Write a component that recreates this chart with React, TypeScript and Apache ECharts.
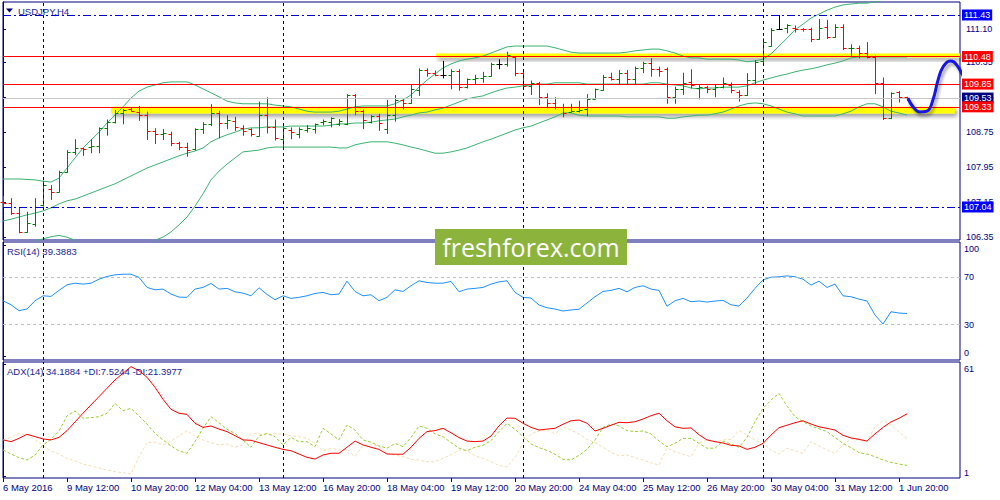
import React, { useEffect, useRef } from "react";
import * as echarts from "echarts";

// ---------- data ----------
const timeLabels = ["6 May 2016", "9 May 12:00", "10 May 20:00", "12 May 04:00", "13 May 12:00", "16 May 20:00", "18 May 04:00", "19 May 12:00", "20 May 20:00", "24 May 04:00", "25 May 12:00", "26 May 20:00", "30 May 04:00", "31 May 12:00", "1 Jun 20:00"];
const timeLabelBars = [0, 8, 16, 24, 32, 40, 48, 56, 64, 72, 80, 88, 96, 104, 112];
const weekStartBars = [5, 35, 65, 95];

const barOpen = [107.16,107.12,106.90,106.47,106.64,107.09,107.45,107.39,107.85,108.30,
108.38,108.41,108.43,108.84,108.99,109.18,109.27,109.22,109.14,108.78,
108.70,108.72,108.50,108.42,108.36,108.82,108.94,109.18,108.97,109.01,
108.84,108.82,108.66,109.14,108.86,108.59,108.80,108.72,108.80,108.82,
108.99,108.99,108.94,108.94,109.60,109.23,108.99,109.12,108.82,109.14,
109.49,109.41,109.71,110.17,110.10,110.06,110.05,110.16,109.78,109.96,
110.00,110.03,110.31,110.31,110.48,110.11,109.81,109.88,109.55,109.41,
109.33,109.22,109.23,109.27,109.52,109.71,110.02,109.96,110.10,109.96,
110.21,110.34,110.19,110.19,109.55,109.73,109.90,109.77,109.78,109.73,
109.79,109.83,109.67,109.60,109.95,110.38,110.73,111.11,111.13,111.14,
111.11,111.11,110.88,111.16,110.93,111.16,110.67,110.68,110.55,110.48,
109.87,109.07,109.66,109.55];
const barHigh = [107.29,107.24,107.03,106.93,107.24,107.64,107.54,107.87,108.34,108.59,
108.39,108.59,108.86,109.04,109.26,109.28,109.30,109.35,109.22,108.84,
108.82,108.76,108.53,108.51,108.84,108.98,109.39,109.24,109.14,109.10,
108.91,108.84,109.45,109.55,109.04,108.88,108.86,108.86,108.91,108.95,
109.04,109.09,109.05,109.62,109.62,109.27,109.14,109.17,109.49,109.60,
109.50,109.83,110.21,110.21,110.16,110.38,110.19,110.19,109.98,110.06,
110.13,110.34,110.42,110.59,110.49,110.17,109.93,109.90,109.64,109.55,
109.40,109.40,109.47,109.62,109.75,110.06,110.11,110.17,110.17,110.25,
110.36,110.44,110.25,110.23,109.79,110.11,110.19,109.85,109.81,109.83,
110.00,109.89,109.71,110.10,110.40,110.90,111.13,111.43,111.22,111.19,
111.13,111.14,111.34,111.32,111.22,111.22,110.76,110.73,110.81,110.50,
110.00,109.66,109.69,109.56];
const barLow = [107.03,106.86,106.44,106.45,106.59,107.05,107.20,107.37,107.82,108.23,
108.21,108.27,108.27,108.67,108.95,108.93,109.22,109.01,108.57,108.48,
108.57,108.43,108.34,108.19,108.33,108.71,108.89,108.61,108.82,108.78,
108.67,108.65,108.65,108.72,108.56,108.38,108.59,108.61,108.74,108.72,
108.91,108.86,108.89,108.91,109.14,108.82,108.95,108.78,108.71,108.99,
109.27,109.40,109.58,110.02,110.03,109.98,109.73,109.70,109.75,109.83,
109.88,110.02,110.19,110.25,110.03,109.78,109.60,109.37,109.30,109.27,
109.09,109.20,109.20,109.12,109.50,109.70,109.93,109.85,109.85,109.85,
110.10,110.02,110.02,109.40,109.40,109.60,109.75,109.50,109.64,109.55,
109.75,109.64,109.45,109.58,109.83,110.30,110.71,111.09,111.01,111.03,
111.05,110.81,110.86,110.88,110.91,110.63,110.48,110.44,110.44,109.62,
109.03,109.05,109.43,109.46];
const barClose = [107.12,106.90,106.47,106.67,107.05,107.54,107.39,107.85,108.30,108.38,
108.36,108.43,108.84,108.99,109.18,109.26,109.24,109.14,108.78,108.72,
108.73,108.50,108.42,108.34,108.82,108.94,109.18,108.97,109.03,108.88,
108.78,108.72,109.14,108.86,108.61,108.84,108.76,108.82,108.84,108.94,
109.01,109.07,109.01,109.60,109.23,109.04,109.12,108.95,109.14,109.49,
109.42,109.73,110.17,110.10,110.06,110.06,110.15,109.78,109.96,110.00,
110.03,110.31,110.31,110.52,110.11,109.81,109.88,109.55,109.41,109.33,
109.20,109.24,109.26,109.52,109.73,110.02,109.96,110.10,109.96,110.21,
110.33,110.19,110.16,109.55,109.73,109.88,109.83,109.79,109.73,109.79,
109.87,109.71,109.60,109.95,110.35,110.81,111.09,111.11,111.19,111.11,
111.10,110.88,111.14,110.93,111.16,110.67,110.68,110.55,110.48,109.88,
109.07,109.64,109.56,109.53];

const bbUpper = [107.68,107.68,107.68,107.67,107.66,107.63,107.61,107.70,107.93,108.16,
108.39,108.57,108.75,108.96,109.14,109.33,109.53,109.69,109.78,109.83,
109.88,109.90,109.90,109.90,109.83,109.74,109.65,109.56,109.46,109.42,
109.40,109.40,109.40,109.40,109.37,109.35,109.33,109.28,109.23,109.21,
109.21,109.21,109.23,109.28,109.33,109.35,109.35,109.35,109.35,109.40,
109.49,109.60,109.78,109.94,110.08,110.22,110.31,110.38,110.42,110.45,
110.49,110.56,110.63,110.70,110.72,110.72,110.72,110.72,110.72,110.68,
110.63,110.58,110.56,110.56,110.56,110.56,110.56,110.56,110.58,110.61,
110.63,110.65,110.65,110.61,110.56,110.49,110.45,110.45,110.42,110.42,
110.42,110.42,110.40,110.36,110.38,110.42,110.54,110.72,110.90,111.09,
111.22,111.36,111.45,111.54,111.61,111.66,111.68,111.70,111.70,111.73,
111.75,111.80,111.82,111.84];
const bbMiddle = [106.72,106.76,106.81,106.86,106.90,106.95,107.02,107.11,107.18,107.22,
107.29,107.36,107.43,107.50,107.57,107.66,107.75,107.84,107.93,108.00,
108.07,108.14,108.21,108.27,108.32,108.39,108.53,108.62,108.69,108.75,
108.82,108.85,108.85,108.87,108.87,108.87,108.89,108.89,108.89,108.89,
108.89,108.91,108.94,108.94,108.96,108.96,108.98,109.01,109.03,109.05,
109.10,109.14,109.19,109.21,109.26,109.30,109.37,109.44,109.51,109.55,
109.58,109.65,109.71,109.76,109.78,109.81,109.83,109.85,109.85,109.88,
109.88,109.88,109.88,109.85,109.85,109.85,109.85,109.85,109.85,109.85,
109.85,109.88,109.88,109.85,109.83,109.81,109.76,109.74,109.76,109.76,
109.78,109.78,109.78,109.81,109.88,109.94,109.99,110.04,110.08,110.13,
110.17,110.20,110.24,110.29,110.33,110.38,110.45,110.47,110.47,110.47,
110.47,110.47,110.47,110.47];
const bbLower = [106.06,106.12,106.17,106.22,106.26,106.31,106.36,106.39,106.35,106.28,
106.22,106.15,106.08,106.01,105.96,105.94,105.94,106.01,106.15,106.28,
106.35,106.47,106.63,106.81,107.06,107.34,107.66,107.86,108.02,108.16,
108.30,108.32,108.34,108.39,108.41,108.41,108.41,108.41,108.41,108.41,
108.41,108.41,108.39,108.39,108.46,108.50,108.53,108.53,108.53,108.50,
108.46,108.41,108.37,108.32,108.27,108.27,108.30,108.34,108.39,108.46,
108.53,108.59,108.66,108.73,108.80,108.85,108.89,108.96,109.03,109.10,
109.19,109.19,109.14,109.12,109.12,109.12,109.12,109.12,109.10,109.10,
109.10,109.10,109.10,109.07,109.07,109.10,109.12,109.14,109.14,109.17,
109.21,109.28,109.35,109.40,109.42,109.40,109.35,109.28,109.21,109.17,
109.12,109.12,109.12,109.12,109.12,109.17,109.23,109.33,109.40,109.40,
109.33,109.23,109.19,109.14];

const rsi = [50.2,46.8,41.8,43.2,50.2,54.4,53.9,59.0,63.7,65.1,
64.3,65.1,68.5,70.8,72.2,72.7,72.7,70.0,61.5,59.5,
60.1,55.9,53.3,53.1,60.1,61.5,64.9,60.1,60.7,57.8,
56.7,54.4,61.2,55.6,51.1,54.4,52.2,53.1,54.4,56.4,
57.3,55.3,55.9,66.8,58.1,54.4,55.3,50.2,53.1,59.5,
58.1,62.9,67.1,65.7,65.1,65.1,66.6,57.8,60.1,60.7,
61.5,64.3,66.2,67.1,57.3,53.1,52.5,46.6,44.3,43.2,
41.5,42.4,43.0,48.3,53.6,58.1,59.0,60.7,57.8,61.5,
62.9,60.1,59.0,45.5,50.2,52.2,49.4,50.0,49.1,50.0,
50.5,46.8,45.7,52.5,60.7,67.9,70.2,70.5,71.3,70.5,
68.5,63.5,66.8,61.5,64.3,54.4,53.6,51.6,50.0,38.1,
30.5,40.9,39.8,39.39];
const rsiLevels = [30, 70];

const adx = [20.7,19.8,21.5,23.6,22.4,21.2,20.7,22.0,25.5,30.0,
34.5,38.8,43.1,47.4,51.7,55.2,58.6,56.5,53.1,47.9,
41.7,36.5,34.5,33.9,29.3,27.2,27.9,26.3,25.0,22.9,
20.7,20.5,19.3,18.1,16.9,15.8,15.1,13.4,11.7,10.8,
12.9,13.8,13.8,16.9,20.1,18.1,16.9,15.8,13.4,13.3,
13.3,16.9,21.5,25.0,25.5,26.7,24.4,21.9,20.1,19.8,
20.1,22.7,28.0,32.0,31.9,29.3,27.2,25.8,26.3,26.7,
28.8,30.6,31.0,29.3,25.3,26.7,28.3,29.8,29.6,30.1,
31.5,33.2,34.5,30.6,27.5,26.7,26.9,23.4,20.7,19.8,
19.1,17.9,17.6,15.8,16.9,18.9,23.2,27.0,28.3,29.6,
30.6,28.9,27.5,26.7,25.8,23.1,21.7,21.0,20.1,23.8,
27.2,30.0,31.9,34.19];
const plusDi = [15.5,13.4,11.5,10.3,12.9,18.1,21.0,25.3,33.1,35.7,
31.9,32.2,32.7,34.5,39.6,35.8,37.0,33.1,28.9,24.1,
20.7,17.6,15.0,13.8,19.8,26.7,32.7,29.6,26.2,24.1,
20.7,16.9,22.7,24.1,22.4,18.1,22.0,19.8,19.8,17.2,
26.7,23.8,20.7,28.4,25.8,20.7,19.5,17.6,16.4,18.9,
17.2,22.0,27.9,26.7,23.8,22.4,19.3,16.4,15.1,16.9,
17.9,20.3,25.0,29.3,26.2,22.4,18.6,16.7,15.3,13.3,
10.7,10.3,12.7,15.8,20.7,27.2,28.9,27.9,25.5,25.0,
25.3,23.8,20.1,17.2,18.9,21.5,21.5,18.9,16.4,16.4,
20.1,18.6,16.9,22.0,30.1,37.0,41.3,44.8,38.2,32.7,
30.1,27.9,26.5,25.0,21.9,18.9,16.7,14.1,13.4,12.0,
10.3,9.1,8.2,7.52];
const minusDi = [20.7,22.0,24.1,23.2,21.0,17.6,15.0,13.3,11.2,9.9,
8.2,7.2,6.2,5.1,4.3,3.7,3.1,12.0,19.3,19.6,
18.1,20.1,22.7,25.5,22.7,20.7,19.3,18.1,18.6,16.9,
18.1,24.1,23.8,23.2,23.8,23.8,22.9,22.4,21.5,18.9,
15.1,16.4,15.5,15.8,12.0,17.6,18.6,17.2,14.1,12.9,
12.0,10.7,10.2,9.4,9.4,11.2,12.9,15.5,15.1,12.5,
11.2,9.4,7.5,6.7,11.7,18.9,23.8,25.3,25.8,23.8,
27.5,25.8,23.8,21.0,19.3,16.9,14.3,12.4,12.9,11.5,
10.3,8.9,7.6,16.5,14.6,13.3,12.0,18.9,20.7,19.6,
20.7,21.0,25.5,23.2,20.7,18.6,15.5,13.4,16.4,15.1,
13.8,19.8,17.6,15.5,13.8,18.1,21.2,20.7,19.8,27.5,
30.6,28.4,24.8,21.40];

const priceTicks = [106.35, 107.15, 107.95, 108.75, 109.55, 110.35, 111.10];
const rangeHigh = 111.43;
const rangeLow = 107.04;
const resistanceLevel = 110.48;
const middleLevel = 109.85;
const supportLevel = 109.33;
const bidPrice = 109.53;

// yellow zones: [startBar, endBar, bottom, top]
const upperZone = [54.125, 119.625, 110.46, 110.55];
const lowerZone = [13.5, 119.0, 109.18, 109.33];

// hand-drawn forecast curve
const forecastBars = [113.125, 113.75, 114.625, 115.5, 116.25, 116.875, 117.5, 118.375, 118.875, 119.625, 120.5, 121.25, 121.875];
const forecastPrices = [109.53, 109.33, 109.21, 109.23, 109.49, 109.94, 110.24, 110.38, 110.355, 110.17, 109.875, 109.60, 109.44];
const arrowBars = [120.25, 121.875, 121.875];
const arrowPrices = [109.60, 109.44, 109.81];

// ---------- styling ----------
const FONT = "'Liberation Sans', Arial, sans-serif";
const NAVY = "#000080";
const UP = "#008000";
const DOWN = "#ff0000";
const FLAT = "#000000";
const BB = "#3cb371";
const X_MAX = 119.625;

const pts = (xs: number[], ys: number[]) => ys.map((v, i) => [xs[i], v]);
const idx = (ys: number[]) => ys.map((v, i) => [i, v]);

function buildOption() {
  const sepLines = weekStartBars.map((b) => ({
    xAxis: b,
    lineStyle: { color: NAVY, type: [3, 3], width: 1 },
    label: { show: false },
  }));
  const boxLabel = (bg: string) => ({
    show: true,
    position: "end",
    distance: 2,
    formatter: (p: any) => Number(p.value).toFixed(2),
    color: "#ffffff",
    backgroundColor: bg,
    padding: [1, 2, 0, 2],
    fontSize: 9,
    lineHeight: 10,
    fontFamily: FONT,
  });
  const dashDot = [8, 3, 2, 3];

  const grids = [
    { left: 3, top: 2, width: 957, height: 238 },
    { left: 3, top: 242, width: 957, height: 118 },
    { left: 3, top: 362, width: 957, height: 116 },
  ].map((g) => ({ ...g, show: true, borderColor: NAVY, borderWidth: 1, backgroundColor: "#ffffff" }));

  const xAxes = [0, 1, 2].map((k) => ({
    type: "value",
    gridIndex: k,
    min: 0,
    max: X_MAX,
    show: k === 2,
    axisLine: { show: false },
    splitLine: { show: false },
    axisTick:
      k === 2
        ? { show: true, customValues: timeLabelBars, length: 4, lineStyle: { color: NAVY } }
        : { show: false },
    axisLabel:
      k === 2
        ? {
            show: true,
            customValues: timeLabelBars,
            formatter: (v: number) => {
              const j = timeLabelBars.indexOf(Math.round(v));
              return j >= 0 ? timeLabels[j] : "";
            },
            align: "left",
            margin: 4,
            color: NAVY,
            fontSize: 9.5,
            fontFamily: FONT,
          }
        : { show: false },
  }));

  const axisCommon = {
    position: "right",
    splitLine: { show: false },
    axisLine: { show: true, lineStyle: { color: NAVY } },
  };
  const yAxes = [
    {
      ...axisCommon,
      type: "value",
      gridIndex: 0,
      min: 106.285,
      max: 111.727,
      axisTick: { show: true, customValues: priceTicks, length: 3, lineStyle: { color: NAVY } },
      axisLabel: {
        customValues: priceTicks,
        formatter: (v: number) => v.toFixed(2),
        color: NAVY,
        fontSize: 9,
        margin: 6,
        fontFamily: FONT,
      },
    },
    {
      ...axisCommon,
      type: "value",
      gridIndex: 1,
      min: 0,
      max: 100,
      axisTick: { show: true, customValues: [3, 30, 70, 97], length: 3, lineStyle: { color: NAVY } },
      axisLabel: {
        customValues: [5.7, 30, 70, 94],
        formatter: (v: number) => (v < 10 ? "0" : v > 90 ? "100" : String(Math.round(v))),
        color: NAVY,
        fontSize: 9,
        margin: 4,
        fontFamily: FONT,
      },
    },
    {
      ...axisCommon,
      type: "value",
      gridIndex: 2,
      min: 1,
      max: 61,
      axisTick: { show: true, customValues: [2, 60], length: 3, lineStyle: { color: NAVY } },
      axisLabel: {
        customValues: [3.7, 57.2],
        formatter: (v: number) => (v < 30 ? "1" : "61"),
        color: NAVY,
        fontSize: 9,
        margin: 4,
        fontFamily: FONT,
      },
    },
  ];

  const ohlc = barOpen.map((o, i) => [i, o, barHigh[i], barLow[i], barClose[i]]);

  const series: any[] = [
    {
      name: "zones",
      type: "line",
      data: [],
      z: 1,
      silent: true,
      markArea: {
        silent: true,
        itemStyle: {
          color: "#ffff00",
          shadowColor: "rgba(0,0,0,0.38)",
          shadowBlur: 4,
          shadowOffsetX: 2,
          shadowOffsetY: 3,
        },
        data: [
          [{ coord: [upperZone[0], upperZone[3]] }, { coord: [upperZone[1], upperZone[2]] }],
          [{ coord: [lowerZone[0], lowerZone[3]] }, { coord: [lowerZone[1], lowerZone[2]] }],
        ],
      },
    },
    {
      name: "levels",
      type: "line",
      data: [],
      z: 2,
      silent: true,
      markLine: {
        silent: true,
        symbol: ["none", "none"],
        data: [
          ...sepLines,
          { yAxis: rangeHigh, lineStyle: { color: "#0000cc", type: dashDot, width: 1 }, label: boxLabel("#0000ff") },
          { yAxis: rangeLow, lineStyle: { color: "#0000cc", type: dashDot, width: 1 }, label: boxLabel("#0000ff") },
          { yAxis: resistanceLevel, lineStyle: { color: "#ff0000", type: "solid", width: 1 }, label: boxLabel("#ff0000") },
          { yAxis: middleLevel, lineStyle: { color: "#ff0000", type: "solid", width: 1 }, label: boxLabel("#ff0000") },
          { yAxis: bidPrice, lineStyle: { color: "#c8c8c8", type: "solid", width: 1 }, label: boxLabel("#000080") },
          { yAxis: supportLevel, lineStyle: { color: "#ff0000", type: "solid", width: 1 }, label: boxLabel("#ff0000") },
        ],
      },
    },
    ...[bbUpper, bbMiddle, bbLower].map((arr) => ({
      type: "line",
      data: idx(arr),
      showSymbol: false,
      symbol: "none",
      z: 3,
      silent: true,
      lineStyle: { color: BB, width: 1 },
    })),
    {
      type: "custom",
      z: 4,
      silent: true,
      data: ohlc,
      encode: { x: 0, y: [1, 2, 3, 4] },
      renderItem: (params: any, api: any) => {
        const x = api.value(0);
        const o = api.value(1);
        const h = api.value(2);
        const l = api.value(3);
        const c = api.value(4);
        const pH = api.coord([x, h]);
        const pL = api.coord([x, l]);
        const pO = api.coord([x, o]);
        const pC = api.coord([x, c]);
        const w = api.size([1, 0])[0] * 0.375;
        const cx = Math.round(pH[0]) + 0.5;
        const oy = Math.round(pO[1]) + 0.5;
        const cy = Math.round(pC[1]) + 0.5;
        const color = c > o ? UP : c < o ? DOWN : FLAT;
        const style = { stroke: color, lineWidth: 1 };
        return {
          type: "group",
          children: [
            { type: "line", shape: { x1: cx, y1: pH[1], x2: cx, y2: pL[1] }, style },
            { type: "line", shape: { x1: cx - w, y1: oy, x2: cx, y2: oy }, style },
            { type: "line", shape: { x1: cx, y1: cy, x2: cx + w, y2: cy }, style },
          ],
        };
      },
    },
    {
      type: "line",
      data: pts(forecastBars, forecastPrices),
      smooth: 0.45,
      clip: false,
      showSymbol: false,
      symbol: "none",
      z: 10,
      silent: true,
      lineStyle: {
        color: "#1414e6",
        width: 3,
        shadowColor: "rgba(0,0,0,0.35)",
        shadowBlur: 3,
        shadowOffsetX: 2,
        shadowOffsetY: 3,
      },
    },
    {
      type: "line",
      data: pts(arrowBars, arrowPrices),
      clip: false,
      showSymbol: false,
      symbol: "none",
      z: 10,
      silent: true,
      lineStyle: { color: "#1414e6", width: 2.5 },
    },
    {
      type: "line",
      xAxisIndex: 1,
      yAxisIndex: 1,
      data: idx(rsi),
      showSymbol: false,
      symbol: "none",
      silent: true,
      z: 3,
      lineStyle: { color: "#1e90ff", width: 1 },
      markLine: {
        silent: true,
        symbol: ["none", "none"],
        label: { show: false },
        data: [
          ...rsiLevels.map((v) => ({ yAxis: v, lineStyle: { color: "#c0c0c0", type: [3, 3], width: 1 }, label: { show: false } })),
          ...sepLines,
        ],
      },
    },
    {
      type: "line",
      xAxisIndex: 2,
      yAxisIndex: 2,
      data: idx(minusDi),
      showSymbol: false,
      symbol: "none",
      silent: true,
      z: 3,
      lineStyle: { color: "#f5deb3", width: 1, type: [3, 2] },
      markLine: { silent: true, symbol: ["none", "none"], label: { show: false }, data: sepLines },
    },
    {
      type: "line",
      xAxisIndex: 2,
      yAxisIndex: 2,
      data: idx(plusDi),
      showSymbol: false,
      symbol: "none",
      silent: true,
      z: 4,
      lineStyle: { color: "#9acd32", width: 1, type: [3, 2] },
    },
    {
      type: "line",
      xAxisIndex: 2,
      yAxisIndex: 2,
      data: idx(adx),
      showSymbol: false,
      symbol: "none",
      silent: true,
      z: 5,
      lineStyle: { color: "#ff0000", width: 1 },
    },
  ];

  const graphic = [
    { type: "polygon", z: 100, shape: { points: [[6, 8.5], [13, 8.5], [9.5, 12.5]] }, style: { fill: NAVY } },
    { type: "text", z: 100, x: 18, y: 11, style: { text: "USDJPY,H4", fill: "#1c1c96", fontSize: 9.5, fontFamily: FONT, verticalAlign: "middle" } },
    { type: "text", z: 100, x: 7, y: 251.5, style: { text: "RSI(14) 39.3883", fill: "#1c1c96", fontSize: 9.5, fontFamily: FONT, verticalAlign: "middle" } },
    { type: "text", z: 100, x: 7, y: 371.5, style: { text: "ADX(14) 34.1884 +DI:7.5244 -DI:21.3977", fill: "#1c1c96", fontSize: 9.5, fontFamily: FONT, verticalAlign: "middle" } },
    { type: "rect", z: 100, shape: { x: 435, y: 229, width: 192, height: 36 }, style: { fill: "#8cb43c" } },
    { type: "text", z: 101, x: 531, y: 247, style: { text: "freshforex.com", fill: "#ffffff", fontSize: 25, fontFamily: "'Open Sans', sans-serif", align: "center", verticalAlign: "middle" } },
  ];

  return {
    animation: false,
    backgroundColor: "#ffffff",
    grid: grids,
    xAxis: xAxes,
    yAxis: yAxes,
    series,
    graphic,
  };
}

export default function App() {
  const ref = useRef<HTMLDivElement>(null);
  useEffect(() => {
    if (!ref.current) return;
    const chart = echarts.init(ref.current, null, { renderer: "svg" });
    chart.setOption(buildOption() as any);
    return () => chart.dispose();
  }, []);
  return (
    <div
      ref={ref}
      style={{ position: "fixed", left: 0, top: 0, width: 1000, height: 500, background: "#ffffff" }}
    />
  );
}
